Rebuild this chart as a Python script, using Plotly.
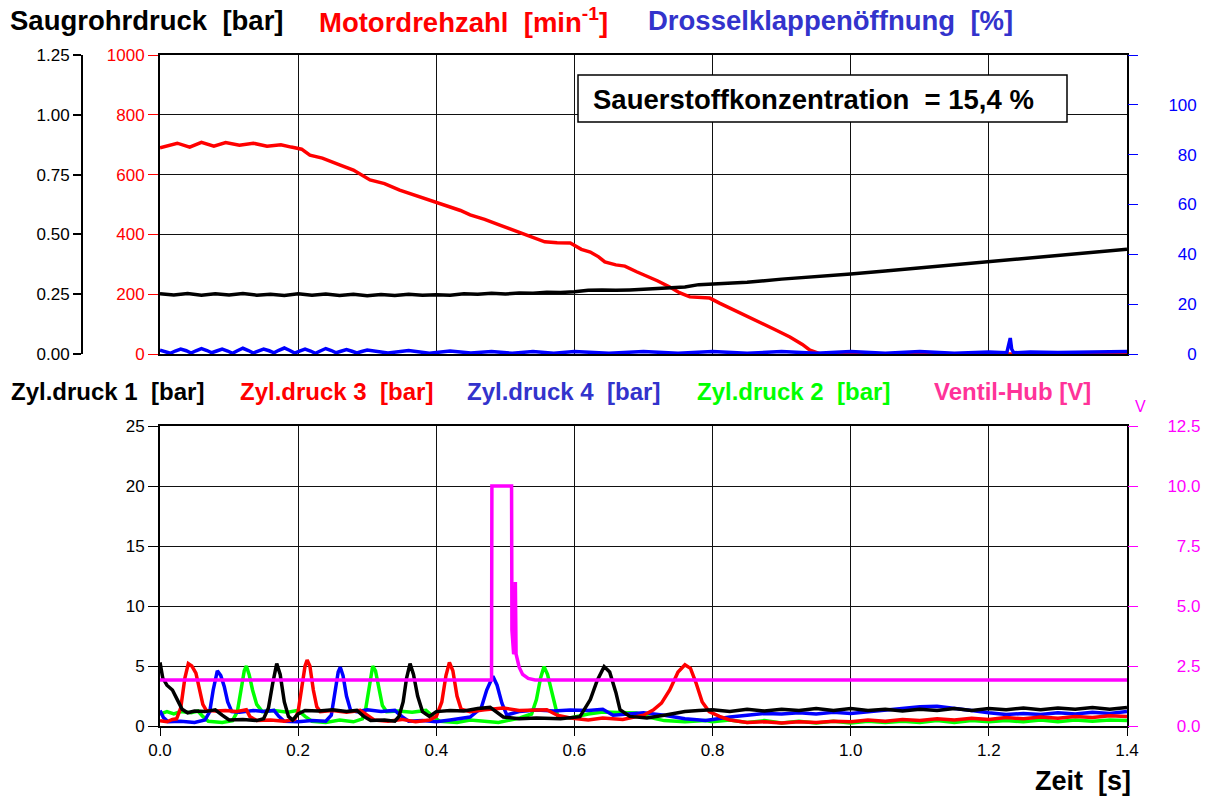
import plotly.graph_objects as go

# ---------------- upper panel: intake pressure, engine speed, throttle ----------------
rpm_t = [0.000, 0.025, 0.043, 0.060, 0.078, 0.095, 0.115, 0.135, 0.155, 0.175, 0.190,
         0.205, 0.217, 0.235, 0.261, 0.280, 0.304, 0.325, 0.347, 0.370, 0.391, 0.405,
         0.420, 0.435, 0.449, 0.470, 0.492, 0.505, 0.521, 0.540, 0.557, 0.575, 0.594,
         0.610, 0.623, 0.635, 0.644, 0.660, 0.673, 0.690, 0.702, 0.720, 0.738, 0.752,
         0.767, 0.780, 0.796, 0.810, 0.825, 0.845, 0.869, 0.890, 0.912, 0.930, 0.941,
         0.956, 1.000, 1.100, 1.200, 1.300, 1.400]
rpm_v = [690, 705, 692, 708, 695, 707, 698, 705, 695, 700, 692,
         685, 665, 655, 632, 615, 582, 570, 548, 530, 515, 505,
         492, 480, 465, 450, 431, 420, 408, 392, 375, 372, 371,
         350, 341, 325, 308, 298, 294, 275, 264, 245, 224, 205,
         191, 190, 187, 170, 154, 130, 104, 82, 57, 32, 13,
         0, 0, 0, 0, 0, 0]

saug_t = [0.00, 0.02, 0.04, 0.06, 0.08, 0.10, 0.12, 0.14, 0.16, 0.18, 0.20, 0.22, 0.24,
          0.26, 0.28, 0.30, 0.32, 0.34, 0.36, 0.38, 0.40, 0.42, 0.44, 0.46, 0.48, 0.50,
          0.52, 0.54, 0.56, 0.58, 0.60, 0.62, 0.64, 0.66, 0.68, 0.70, 0.72, 0.74, 0.76,
          0.78, 0.80, 0.85, 0.90, 0.95, 1.00, 1.05, 1.10, 1.15, 1.20, 1.25, 1.30, 1.35, 1.40]
saug_v = [0.252, 0.247, 0.253, 0.246, 0.252, 0.247, 0.253, 0.246, 0.250, 0.245, 0.252,
          0.246, 0.251, 0.245, 0.250, 0.244, 0.249, 0.245, 0.250, 0.246, 0.248, 0.246,
          0.252, 0.250, 0.254, 0.251, 0.255, 0.254, 0.258, 0.257, 0.260, 0.266, 0.268,
          0.266, 0.268, 0.271, 0.274, 0.276, 0.280, 0.290, 0.293, 0.300, 0.313, 0.322,
          0.334, 0.347, 0.360, 0.373, 0.386, 0.399, 0.412, 0.425, 0.438]

thr_t = [0.000, 0.008, 0.015, 0.022, 0.030, 0.038, 0.045, 0.052, 0.060, 0.068, 0.075,
         0.082, 0.090, 0.098, 0.105, 0.112, 0.120, 0.128, 0.135, 0.142, 0.150, 0.158,
         0.165, 0.172, 0.180, 0.188, 0.195, 0.202, 0.210, 0.218, 0.225, 0.232, 0.240,
         0.248, 0.255, 0.262, 0.270, 0.278, 0.285, 0.292, 0.300, 0.330, 0.360, 0.390,
         0.420, 0.450, 0.480, 0.510, 0.540, 0.570, 0.600, 0.650, 0.700, 0.750, 0.800,
         0.850, 0.900, 0.950, 1.000, 1.050, 1.100, 1.150, 1.200, 1.226, 1.229, 1.231,
         1.233, 1.236, 1.260, 1.300, 1.350, 1.400]
thr_v = [1.5, 0.8, 0.3, 1.2, 2.0, 1.3, 0.4, 1.3, 2.2, 1.4, 0.5,
         1.2, 2.0, 1.2, 0.3, 1.3, 2.3, 1.4, 0.4, 1.2, 2.0, 1.3,
         0.5, 1.5, 2.4, 1.4, 0.4, 1.2, 2.0, 1.2, 0.3, 1.2, 2.2,
         1.4, 0.5, 1.1, 1.8, 1.1, 0.4, 1.0, 1.6, 0.4, 1.4, 0.3,
         1.2, 0.4, 1.0, 0.3, 1.0, 0.3, 1.0, 0.3, 1.0, 0.3, 1.0,
         0.3, 1.0, 0.3, 1.0, 0.3, 1.0, 0.3, 0.8, 0.5, 3.5, 6.4,
         2.0, 0.5, 0.8, 0.6, 0.8, 1.0]

# ---------------- lower panel: cylinder pressures and valve lift ----------------
z1_t = [0.000, 0.004, 0.010, 0.018, 0.025, 0.032, 0.040, 0.050, 0.065, 0.080, 0.090,
        0.100, 0.120, 0.140, 0.150, 0.157, 0.163, 0.169, 0.174, 0.180, 0.186, 0.192,
        0.200, 0.210, 0.230, 0.250, 0.270, 0.285, 0.295, 0.305, 0.325, 0.340, 0.346,
        0.352, 0.357, 0.362, 0.367, 0.373, 0.380, 0.390, 0.400, 0.420, 0.440, 0.460,
        0.478, 0.497, 0.520, 0.545, 0.580, 0.608, 0.623, 0.633, 0.643, 0.651, 0.660,
        0.666, 0.680, 0.705, 0.730, 0.760, 0.780, 0.800, 0.825, 0.850, 0.875, 0.900,
        0.925, 0.950, 0.975, 1.000, 1.025, 1.050, 1.075, 1.100, 1.125, 1.150, 1.175,
        1.200, 1.225, 1.250, 1.275, 1.300, 1.325, 1.350, 1.375, 1.400]
z1_v = [5.3, 4.0, 3.4, 3.0, 2.2, 1.4, 1.1, 1.25, 1.2, 1.35, 0.9,
        0.5, 0.55, 0.45, 0.6, 1.5, 3.5, 5.2, 4.3, 2.0, 0.8, 0.5,
        1.0, 1.3, 1.25, 1.35, 1.2, 1.3, 0.8, 0.45, 0.5, 0.4, 0.8,
        2.0, 4.0, 5.2, 4.3, 2.5, 1.2, 0.8, 1.2, 1.3, 1.25, 1.45,
        1.55, 0.75, 0.6, 0.67, 0.6, 0.78, 2.2, 3.8, 4.95, 4.5, 2.8,
        1.35, 0.8, 0.67, 0.9, 1.2, 1.3, 1.35, 1.2, 1.4, 1.25, 1.4,
        1.3, 1.45, 1.3, 1.45, 1.3, 1.4, 1.25, 1.4, 1.3, 1.45, 1.3,
        1.45, 1.35, 1.5, 1.35, 1.5, 1.4, 1.55, 1.4, 1.55]

z3_t = [0.000, 0.010, 0.018, 0.024, 0.030, 0.036, 0.041, 0.046, 0.052, 0.057, 0.062,
        0.067, 0.080, 0.095, 0.110, 0.125, 0.130, 0.140, 0.160, 0.180, 0.195, 0.200,
        0.205, 0.210, 0.213, 0.217, 0.222, 0.227, 0.232, 0.250, 0.270, 0.290, 0.300,
        0.310, 0.330, 0.350, 0.370, 0.390, 0.400, 0.408, 0.414, 0.419, 0.424, 0.430,
        0.436, 0.449, 0.470, 0.497, 0.520, 0.560, 0.575, 0.594, 0.620, 0.641, 0.670,
        0.700, 0.714, 0.726, 0.738, 0.750, 0.760, 0.768, 0.776, 0.785, 0.795, 0.810,
        0.825, 0.850, 0.875, 0.900, 0.925, 0.950, 0.975, 1.000, 1.025, 1.050, 1.075,
        1.100, 1.125, 1.150, 1.175, 1.200, 1.225, 1.250, 1.275, 1.300, 1.325, 1.350,
        1.375, 1.400]
z3_v = [0.45, 0.35, 0.55, 0.6, 1.5, 4.0, 5.2, 5.0, 4.4, 3.0, 1.8,
        1.3, 1.25, 1.3, 1.2, 1.35, 0.8, 0.45, 0.5, 0.4, 0.55, 1.2,
        3.0, 5.0, 5.5, 5.0, 3.0, 1.6, 1.2, 1.3, 1.15, 1.3, 0.9,
        0.5, 0.4, 0.55, 0.35, 0.5, 0.8, 2.0, 4.2, 5.3, 4.6, 2.5,
        1.4, 1.2, 1.35, 1.5, 1.3, 1.35, 0.9, 0.67, 0.5, 0.67, 0.55,
        0.9, 1.33, 1.9, 3.0, 4.5, 5.1, 4.8, 3.6, 2.0, 1.2, 0.8,
        0.5, 0.3, 0.35, 0.25, 0.35, 0.3, 0.4, 0.35, 0.5, 0.4, 0.55,
        0.45, 0.6, 0.5, 0.65, 0.55, 0.7, 0.6, 0.75, 0.65, 0.8, 0.7,
        0.85, 0.8]

z4_t = [0.000, 0.005, 0.012, 0.030, 0.050, 0.065, 0.072, 0.077, 0.083, 0.088, 0.093,
        0.098, 0.104, 0.115, 0.135, 0.150, 0.165, 0.172, 0.180, 0.200, 0.220, 0.240,
        0.248, 0.253, 0.258, 0.261, 0.265, 0.270, 0.276, 0.285, 0.300, 0.320, 0.340,
        0.350, 0.360, 0.380, 0.400, 0.420, 0.449, 0.465, 0.473, 0.482, 0.488, 0.495,
        0.502, 0.520, 0.545, 0.570, 0.594, 0.620, 0.641, 0.656, 0.680, 0.700, 0.730,
        0.760, 0.790, 0.800, 0.825, 0.850, 0.875, 0.900, 0.925, 0.950, 0.975, 1.000,
        1.025, 1.050, 1.075, 1.100, 1.125, 1.150, 1.175, 1.200, 1.225, 1.250, 1.275,
        1.300, 1.325, 1.350, 1.375, 1.400]
z4_v = [1.3, 0.7, 0.35, 0.4, 0.3, 0.5, 1.2, 3.0, 4.6, 4.2, 3.3,
        2.0, 1.2, 1.15, 1.3, 1.2, 1.3, 0.8, 0.4, 0.35, 0.45, 0.4,
        0.9, 2.5, 4.5, 4.9, 4.2, 2.5, 1.3, 1.2, 1.35, 1.2, 1.3,
        0.8, 0.4, 0.45, 0.35, 0.5, 0.75, 1.5, 3.0, 4.15, 3.4, 1.9,
        0.92, 1.2, 1.33, 1.25, 1.33, 1.3, 1.4, 0.9, 1.0, 1.1, 0.9,
        0.6, 0.45, 0.55, 0.75, 0.9, 1.05, 1.0, 1.1, 1.0, 1.15, 1.05,
        1.2, 1.3, 1.45, 1.6, 1.65, 1.5, 1.3, 1.1, 0.95, 1.05, 0.95,
        1.1, 1.0, 1.15, 1.05, 1.2]

z2_t = [0.000, 0.010, 0.020, 0.030, 0.045, 0.055, 0.062, 0.070, 0.090, 0.105, 0.112,
        0.117, 0.122, 0.125, 0.129, 0.134, 0.140, 0.148, 0.165, 0.185, 0.200, 0.210,
        0.220, 0.240, 0.260, 0.280, 0.293, 0.298, 0.303, 0.308, 0.312, 0.317, 0.322,
        0.328, 0.345, 0.365, 0.385, 0.395, 0.405, 0.430, 0.449, 0.490, 0.521, 0.538,
        0.545, 0.551, 0.556, 0.561, 0.569, 0.576, 0.594, 0.620, 0.641, 0.670, 0.690,
        0.710, 0.730, 0.760, 0.790, 0.800, 0.825, 0.850, 0.875, 0.900, 0.925, 0.950,
        0.975, 1.000, 1.025, 1.050, 1.075, 1.100, 1.125, 1.150, 1.175, 1.200, 1.225,
        1.250, 1.275, 1.300, 1.325, 1.350, 1.375, 1.400]
z2_v = [1.0, 1.2, 1.0, 1.2, 1.1, 1.25, 0.8, 0.4, 0.3, 0.45, 1.2,
        3.0, 4.6, 5.0, 4.3, 3.0, 1.8, 1.2, 1.3, 1.15, 1.3, 0.8,
        0.4, 0.3, 0.5, 0.35, 0.6, 1.5, 3.5, 5.0, 4.6, 3.0, 1.7,
        1.2, 1.25, 1.15, 1.3, 0.8, 0.4, 0.3, 0.5, 0.3, 0.67, 1.0,
        2.2, 4.0, 4.95, 4.3, 2.4, 0.78, 0.67, 1.0, 1.17, 1.1, 1.08,
        0.7, 0.45, 0.35, 0.45, 0.35, 0.5, 0.3, 0.45, 0.25, 0.4, 0.25,
        0.4, 0.25, 0.4, 0.3, 0.4, 0.3, 0.45, 0.3, 0.45, 0.35, 0.45,
        0.35, 0.5, 0.35, 0.5, 0.4, 0.5, 0.45]

hub_t = [0.000, 0.480, 0.4805, 0.509, 0.5095, 0.511, 0.512, 0.5135, 0.5145, 0.5155,
         0.517, 0.520, 0.525, 0.533, 0.543, 1.400]
hub_v = [1.92, 1.92, 10.0, 10.0, 4.0, 3.2, 3.0, 3.1, 6.0, 3.0,
         2.8, 2.45, 2.15, 1.98, 1.92, 1.92]

x_ticks = [0.0, 0.2, 0.4, 0.6, 0.8, 1.0, 1.2, 1.4]
thr_ticks = [0, 20, 40, 60, 80, 100, 120]
thr_labels = ["\u2007\u20070", "\u200720", "\u200740", "\u200760", "\u200780", "100", "\u2007"]
hub_ticks = [0.0, 2.5, 5.0, 7.5, 10.0, 12.5]
hub_labels = ["\u20070.0", "\u20072.5", "\u20075.0", "\u20077.5", "10.0", "12.5"]

# ---------------- colours, fonts, geometry ----------------
W, H = 1210, 798
FONT = "Liberation Sans, Arial, Helvetica, sans-serif"
RED, BLUE, GREEN, MAG = "#ff0000", "#0000ff", "#00ff00", "#ff00ff"
TXT_BLUE, TXT_PINK = "#3333cc", "#ff3399"


def px_x(p):
    return p / W


def px_y(p):
    return 1 - p / H


X_DOM = [px_x(160), px_x(1127)]
TOP_DOM = [px_y(354), px_y(55)]
BOT_DOM = [px_y(726), px_y(426)]
TICKF = dict(family=FONT, size=17, color="black")

fig = go.Figure()
line_w = 3.5

fig.add_trace(go.Scatter(x=thr_t, y=thr_v, xaxis="x", yaxis="y3", mode="lines",
                         line=dict(color=BLUE, width=line_w)))
fig.add_trace(go.Scatter(x=rpm_t, y=rpm_v, xaxis="x", yaxis="y", mode="lines",
                         line=dict(color=RED, width=line_w)))
fig.add_trace(go.Scatter(x=saug_t, y=saug_v, xaxis="x", yaxis="y2", mode="lines",
                         line=dict(color="black", width=line_w)))

for t, v, c in [(z2_t, z2_v, GREEN), (z4_t, z4_v, BLUE), (z3_t, z3_v, RED), (z1_t, z1_v, "black")]:
    fig.add_trace(go.Scatter(x=t, y=v, xaxis="x2", yaxis="y4", mode="lines",
                             line=dict(color=c, width=line_w)))
fig.add_trace(go.Scatter(x=hub_t, y=hub_v, xaxis="x2", yaxis="y5", mode="lines",
                         line=dict(color=MAG, width=line_w)))

frame = dict(showline=True, linecolor="black", linewidth=2, mirror=True)
grid = dict(showgrid=True, gridcolor="#111111", gridwidth=1, zeroline=False)

fig.update_layout(
    width=W, height=H, template="none",
    margin=dict(l=0, r=0, t=0, b=0),
    paper_bgcolor="white", plot_bgcolor="white", showlegend=False,
    font=dict(family=FONT),
    xaxis=dict(domain=X_DOM, anchor="y", range=[0, 1.4], tickvals=x_ticks,
               showticklabels=False, ticks="", automargin=False, **grid, **frame),
    yaxis=dict(domain=TOP_DOM, anchor="x", range=[0, 1000], dtick=200,
               ticks="outside", ticklen=10, tickcolor=RED, tickwidth=1,
               tickfont=dict(family=FONT, size=17, color=RED), automargin=False,
               **grid, **frame),
    yaxis2=dict(overlaying="y", anchor="free", position=px_x(82), side="left",
                range=[0, 1.25], dtick=0.25, tickformat=".2f",
                ticks="outside", ticklen=8, tickcolor="black", tickwidth=2,
                tickfont=TICKF, showgrid=False, zeroline=False,
                showline=True, linecolor="black", linewidth=2, automargin=False),
    yaxis3=dict(overlaying="y", anchor="x", side="right", range=[0, 120],
                tickvals=thr_ticks, ticktext=thr_labels,
                ticks="outside", ticklen=10, tickcolor=BLUE, tickwidth=1,
                ticklabelstandoff=27,
                tickfont=dict(family=FONT, size=17, color=BLUE),
                showgrid=False, zeroline=False, showline=False, automargin=False),
    xaxis2=dict(domain=X_DOM, anchor="y4", range=[0, 1.4], tickvals=x_ticks,
                tickformat=".1f", ticks="outside", ticklen=8, tickcolor="black",
                tickwidth=1, tickfont=TICKF, automargin=False, **grid, **frame),
    yaxis4=dict(domain=BOT_DOM, anchor="x2", range=[0, 25], dtick=5,
                ticks="outside", ticklen=10, tickcolor="black", tickwidth=1,
                tickfont=TICKF, automargin=False, **grid, **frame),
    yaxis5=dict(overlaying="y4", anchor="x2", side="right", range=[0, 12.5],
                tickvals=hub_ticks, ticktext=hub_labels,
                ticks="outside", ticklen=10, tickcolor=MAG, tickwidth=1,
                ticklabelstandoff=26,
                tickfont=dict(family=FONT, size=17, color=MAG),
                showgrid=False, zeroline=False, showline=False, automargin=False),
)

# oxygen concentration box
fig.add_shape(type="rect", xref="paper", yref="paper",
              x0=px_x(578), x1=px_x(1067), y0=px_y(122), y1=px_y(75),
              fillcolor="white", line=dict(color="black", width=1.5), layer="above")


def label(text, x, y, color, size, anchor="left"):
    fig.add_annotation(text=text, xref="paper", yref="paper", x=px_x(x), y=px_y(y),
                       xanchor=anchor, yanchor="middle", showarrow=False,
                       font=dict(family=FONT, size=size, color=color))


NB = "\u00a0"
label("<b>Sauerstoffkonzentration" + NB * 2 + "= 15,4 %</b>", 591, 99, "black", 27.5)

label("<b>Saugrohrdruck" + NB * 2 + "[bar]</b>", 8, 21, "black", 27.5)
label("<b>Motordrehzahl" + NB * 2 + "[min<sup>-1</sup>]</b>", 317, 21, RED, 27.5)
label("<b>Drosselklappenöffnung" + NB * 2 + "[%]</b>", 646, 21, TXT_BLUE, 27.5)

label("<b>Zyl.druck 1" + NB * 2 + "[bar]</b>", 9, 391, "black", 24)
label("<b>Zyl.druck 3" + NB * 2 + "[bar]</b>", 238, 391, RED, 24)
label("<b>Zyl.druck 4" + NB * 2 + "[bar]</b>", 465, 391, TXT_BLUE, 24)
label("<b>Zyl.druck 2" + NB * 2 + "[bar]</b>", 695, 391, GREEN, 24)
label("<b>Ventil-Hub [V]</b>", 932, 391, TXT_PINK, 24)
label("V", 1140, 406, MAG, 16, anchor="center")

label("<b>Zeit" + NB * 2 + "[s]</b>", 1133, 781, "black", 27, anchor="right")

fig.write_html("out.html")
